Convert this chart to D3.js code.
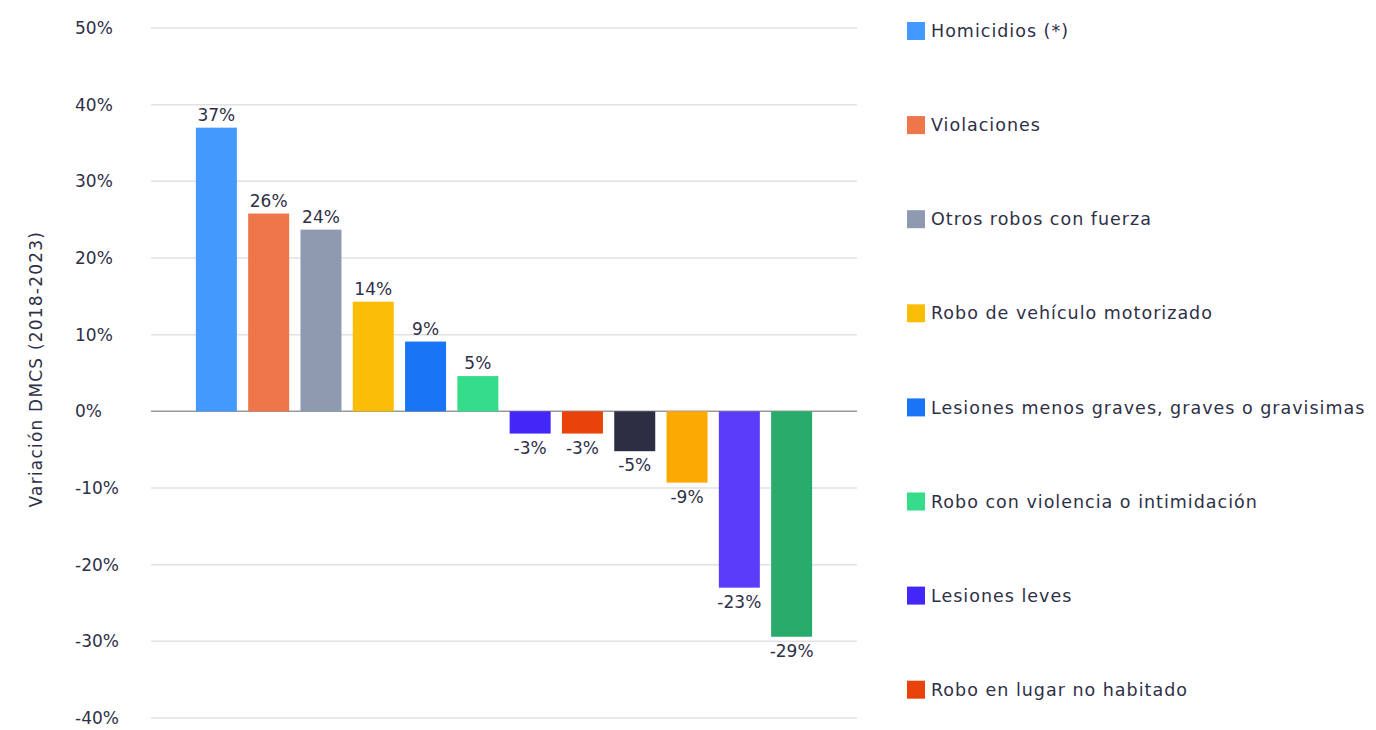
<!DOCTYPE html>
<html>
<head>
<meta charset="utf-8">
<script src="https://cdn.jsdelivr.net/npm/d3@7"></script>
<style>
  body { margin: 0; background: #fff; }
  svg text { font-family: "DejaVu Sans", "Open Sans", sans-serif; fill: #2e3047; }
</style>
</head>
<body>
<main></main>
<script>
// variation 2018-2023 per crime type, in percent
const values = [37.0, 25.8, 23.7, 14.3, 9.1, 4.6, -2.9, -2.9, -5.2, -9.3, -23.0, -29.4];
const colors = ['#4499ff', '#ef754a', '#8e9ab0', '#fbbd08', '#1a74f6', '#35dc8a',
                '#4227f8', '#e9420b', '#2c2e44', '#fca902', '#5a3cfa', '#29ab6b'];
const legendNames = ['Homicidios (*)', 'Violaciones', 'Otros robos con fuerza',
  'Robo de vehículo motorizado', 'Lesiones menos graves, graves o gravisimas',
  'Robo con violencia o intimidación', 'Lesiones leves', 'Robo en lugar no habitado'];
const yTicks = [50, 40, 30, 20, 10, 0, -10, -20, -30, -40];

const w = 1376;
const h = 730;

const svg = d3.select('main').append('svg')
  .attr('width', w)
  .attr('height', h);

const xScale = d3.scaleBand()
  .domain(d3.range(values.length))
  .range([151, 857])
  .paddingInner(0.216)
  .paddingOuter(0.858);

const yScale = d3.scaleLinear()
  .domain([-40, 50])
  .range([718, 28]);

// gridlines + tick labels
const grid = svg.append('g');
grid.selectAll('line')
  .data(yTicks)
  .enter()
  .append('line')
  .attr('x1', 151)
  .attr('x2', 857)
  .attr('y1', d => yScale(d))
  .attr('y2', d => yScale(d))
  .attr('stroke', d => d === 0 ? '#9a9a9a' : '#e2e2e2')
  .attr('stroke-width', 1.5);

grid.selectAll('text')
  .data(yTicks)
  .enter()
  .append('text')
  .attr('x', 75)
  .attr('y', d => yScale(d))
  .attr('dy', '0.35em')
  .attr('font-size', '17px')
  .text(d => d + '%');

svg.append('text')
  .attr('transform', `translate(42, ${yScale(5.5)}) rotate(-90)`)
  .attr('text-anchor', 'middle')
  .attr('font-size', '17px')
  .attr('letter-spacing', '1.2px')
  .text('Variación DMCS (2018-2023)');

// bars
svg.selectAll('rect.bar')
  .data(values)
  .enter()
  .append('rect')
  .attr('class', 'bar')
  .attr('x', (d, i) => xScale(i))
  .attr('width', xScale.bandwidth())
  .attr('y', d => yScale(Math.max(0, d)))
  .attr('height', d => Math.abs(yScale(d) - yScale(0)))
  .attr('fill', (d, i) => colors[i]);

svg.selectAll('text.val')
  .data(values)
  .enter()
  .append('text')
  .attr('class', 'val')
  .attr('x', (d, i) => xScale(i) + xScale.bandwidth() / 2)
  .attr('y', d => d >= 0 ? yScale(d) - 7 : yScale(d) + 20)
  .attr('text-anchor', 'middle')
  .attr('font-size', '17px')
  .text(d => Math.round(d) + '%');

// legend
const legend = svg.append('g');
const item = legend.selectAll('g')
  .data(legendNames)
  .enter()
  .append('g')
  .attr('transform', (d, i) => `translate(907, ${31 + i * 94.1})`);

item.append('rect')
  .attr('y', -9)
  .attr('width', 18)
  .attr('height', 18)
  .attr('fill', (d, i) => colors[i]);

item.append('text')
  .attr('x', 24)
  .attr('dy', '0.35em')
  .attr('font-size', '17.5px')
  .attr('letter-spacing', '1px')
  .text(d => d);
</script>
</body>
</html>
